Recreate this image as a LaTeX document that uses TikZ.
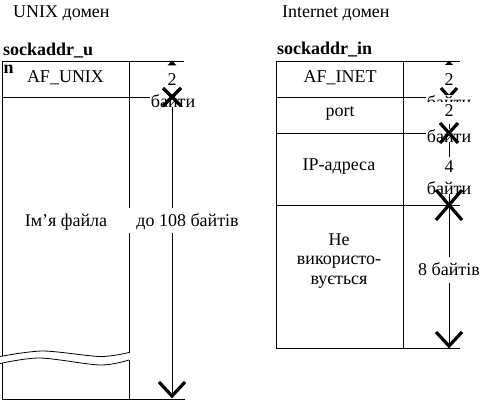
\documentclass[tikz,border=0pt]{standalone}
\usepackage{fontspec}
\setmainfont{Liberation Serif}
\begin{document}
\begin{tikzpicture}[x=1pt,y=-1pt,font=\fontsize{18}{19.5}\selectfont,
  ln/.style={line width=0.8pt},
  head/.style={line width=3.2pt,line join=miter},
  lbl/.style={anchor=base,inner sep=0pt},
  wl/.style={anchor=base,fill=white,inner xsep=1pt,inner ysep=0pt},
  wide/.style={minimum width=50pt},
  bold/.style={font=\fontsize{18}{19.5}\selectfont\bfseries}]
\useasboundingbox (0,0) rectangle (489,401);

% titles
\node[lbl,anchor=base west] (t1) at (13,18) {UNIX домен};
\node[lbl,anchor=base west] (t2) at (282,18) {Internet домен};
\node[lbl,anchor=base west,bold] (s1) at (3,56) {sockaddr\_u};
\node[lbl,anchor=base west,bold] (s1n) at (3.5,74) {n};
\node[lbl,anchor=base west,bold] (s2) at (277,55) {sockaddr\_in};

% ---------- UNIX structure ----------
\draw[ln] (2,61) -- (184,61);
\draw[ln] (2,97) -- (184,97);
\draw[ln] (2,61) -- (2,356);
\draw[ln] (2,363) -- (2,399);
\draw[ln] (129,61) -- (129,352.5);
\draw[ln] (129,360) -- (129,399);
\draw[ln] (2,399) -- (185,399);
\draw[ln] plot[smooth] coordinates {(0,356.5) (43,351) (100,356.5) (129,352.5)};
\draw[ln] plot[smooth] coordinates {(0,363.5) (40,358) (100,365) (129,360)};

\coordinate (LA0) at (172,60.5);
\coordinate (LA1) at (172,97);
\coordinate (LA2) at (172,396);
\draw[ln] (LA1) -- (LA2);

\node[lbl] (afu) at (65.5,83) {AF\_UNIX};
\node[lbl] (fn) at (66,226) {Ім’я файла};
\node[wl] (l2) at (172,86) {2};
\node[wl] (lb) at (173,107) {байти};
\node[wl,inner xsep=8pt,text height=18pt,text depth=7pt] (l108) at (187.5,226) {до 108 байтів};

\fill (LA0) -- ++(-4.5,5) -- ++(9,0) -- cycle;
\draw[head] ([shift={(-9,-9)}]LA1) -- (LA1) -- ([shift={(9,-9)}]LA1);
\draw[head] ([shift={(-9,9)}]LA1) -- (LA1) -- ([shift={(9,9)}]LA1);
\draw[head] ([shift={(-13,-14)}]LA2) -- (LA2) -- ([shift={(13,-14)}]LA2);

% ---------- Internet structure ----------
\draw[ln] (276,61) -- (460,61);
\draw[ln] (276,97) -- (460,97);
\draw[ln] (276,133) -- (460,133);
\draw[ln] (276,205) -- (460,205);
\draw[ln] (276,348) -- (460,348);
\draw[ln] (276,61) -- (276,348);
\draw[ln] (403,61) -- (403,348);

\coordinate (RA0) at (449,60.5);
\coordinate (RA1) at (449,97);
\coordinate (RA2) at (449,133);
\coordinate (RA3) at (449,205);
\coordinate (RA4) at (449,346);
\draw[ln] (RA1) -- (RA4);

\node[lbl] (afi) at (340,83) {AF\_INET};
\node[lbl] (port) at (340,116) {port};
\node[lbl] (ip) at (339,170) {IP-адреса};
\node[lbl,align=center] (nu) at (339,284) {Не\\використо-\\вується};

\fill (RA0) -- ++(-4.5,5) -- ++(9,0) -- cycle;
\node[wl,wide,text height=20pt] (r2a) at (449,85) {2};
\draw[head] ([shift={(-8,-9)}]RA1) -- (RA1) -- ([shift={(8,-9)}]RA1);
\draw[head] ([shift={(-8,9)}]RA1) -- (RA1) -- ([shift={(8,9)}]RA1);
\node[wl] (rba) at (449,108) {байти};
\node[wl,wide,text height=15pt,text depth=7pt] (r2b) at (449,117) {2};
\node[wl] (rbb) at (449,142) {байти};
\draw[head] ([shift={(-9,-10)}]RA2) -- (RA2) -- ([shift={(9,-10)}]RA2);
\draw[head] ([shift={(-9,10)}]RA2) -- (RA2) -- ([shift={(9,10)}]RA2);
\node[wl,wide,text height=15pt,text depth=9pt] (r4) at (449,172) {4};
\node[wl] (rbc) at (449,194) {байти};
\draw[head] ([shift={(-13,-15)}]RA3) -- (RA3) -- ([shift={(13,-15)}]RA3);
\draw[head] ([shift={(-13,15)}]RA3) -- (RA3) -- ([shift={(13,15)}]RA3);
\node[wl,text height=18pt,text depth=8pt] (r8) at (449,275) {8 байтів};
\draw[head] ([shift={(-13,-14)}]RA4) -- (RA4) -- ([shift={(13,-14)}]RA4);
\end{tikzpicture}
\end{document}
